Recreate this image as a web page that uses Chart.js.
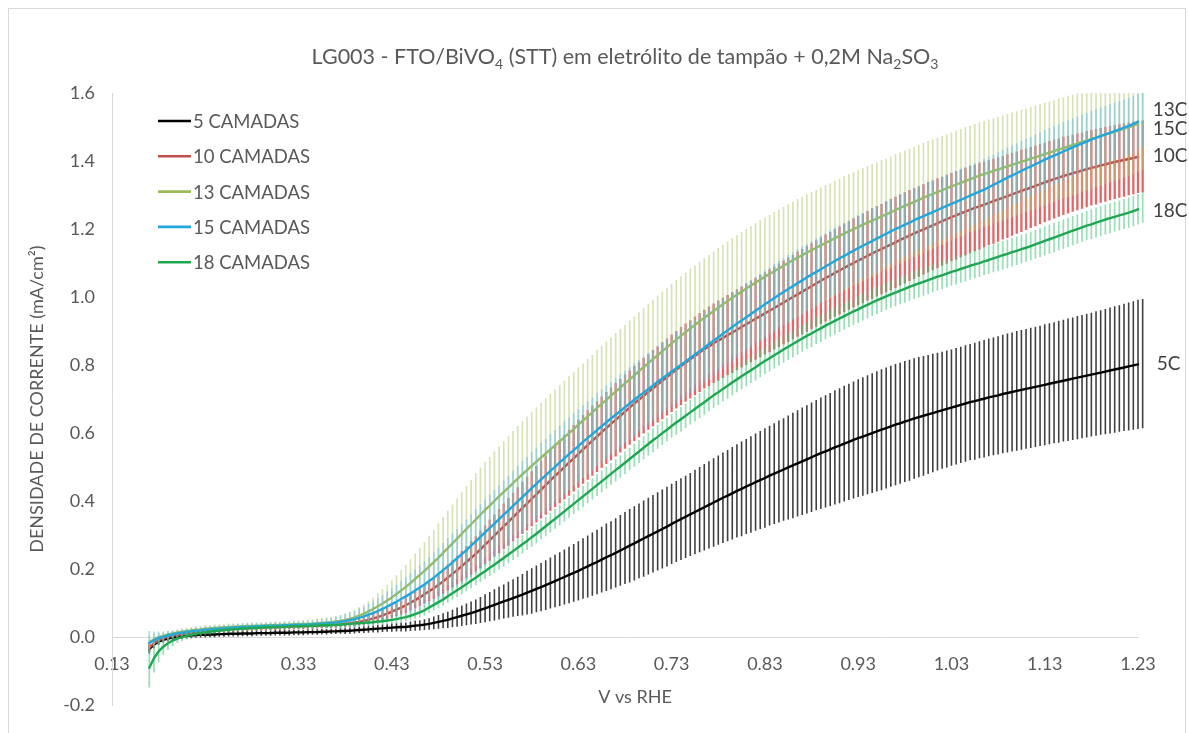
<!DOCTYPE html>
<html>
<head>
<meta charset="utf-8">
<script src="https://cdn.jsdelivr.net/npm/chart.js@4.4.0/dist/chart.umd.min.js"></script>
<style>
  html, body { margin: 0; padding: 0; background: #ffffff; }
  #wrap { width: 1189px; height: 733px; position: relative; }
</style>
</head>
<body>
<div id="wrap"><canvas id="chart" width="1189" height="733"></canvas></div>
<script>
// Potential sweep (V vs RHE)
const potential = [
  0.170,0.175,0.180,0.185,0.190,0.195,0.200,0.205,0.210,0.215,
  0.220,0.225,0.230,0.235,0.240,0.245,0.250,0.255,0.260,0.265,
  0.270,0.275,0.280,0.285,0.290,0.295,0.300,0.305,0.310,0.315,
  0.320,0.325,0.330,0.335,0.340,0.345,0.350,0.355,0.360,0.365,
  0.370,0.375,0.380,0.385,0.390,0.395,0.400,0.405,0.410,0.415,
  0.420,0.425,0.430,0.435,0.440,0.445,0.450,0.455,0.460,0.465,
  0.470,0.475,0.480,0.485,0.490,0.495,0.500,0.505,0.510,0.515,
  0.520,0.525,0.530,0.535,0.540,0.545,0.550,0.555,0.560,0.565,
  0.570,0.575,0.580,0.585,0.590,0.595,0.600,0.605,0.610,0.615,
  0.620,0.625,0.630,0.635,0.640,0.645,0.650,0.655,0.660,0.665,
  0.670,0.675,0.680,0.685,0.690,0.695,0.700,0.705,0.710,0.715,
  0.720,0.725,0.730,0.735,0.740,0.745,0.750,0.755,0.760,0.765,
  0.770,0.775,0.780,0.785,0.790,0.795,0.800,0.805,0.810,0.815,
  0.820,0.825,0.830,0.835,0.840,0.845,0.850,0.855,0.860,0.865,
  0.870,0.875,0.880,0.885,0.890,0.895,0.900,0.905,0.910,0.915,
  0.920,0.925,0.930,0.935,0.940,0.945,0.950,0.955,0.960,0.965,
  0.970,0.975,0.980,0.985,0.990,0.995,1.000,1.005,1.010,1.015,
  1.020,1.025,1.030,1.035,1.040,1.045,1.050,1.055,1.060,1.065,
  1.070,1.075,1.080,1.085,1.090,1.095,1.100,1.105,1.110,1.115,
  1.120,1.125,1.130,1.135,1.140,1.145,1.150,1.155,1.160,1.165,
  1.170,1.175,1.180,1.185,1.190,1.195,1.200,1.205,1.210,1.215,
  1.220,1.225,1.230,1.235
];

// Mean current density (mA/cm²) and standard deviation per film thickness
const j5 = [
  -0.035,-0.022,-0.013,-0.008,-0.004,-0.001,0.001,0.003,0.004,0.005,
  0.006,0.007,0.007,0.008,0.008,0.009,0.009,0.010,0.010,0.010,
  0.011,0.011,0.011,0.012,0.012,0.012,0.012,0.013,0.013,0.013,
  0.013,0.014,0.014,0.014,0.015,0.015,0.015,0.016,0.016,0.017,
  0.017,0.018,0.018,0.019,0.020,0.021,0.022,0.023,0.024,0.025,
  0.026,0.027,0.028,0.029,0.030,0.030,0.032,0.034,0.035,0.037,
  0.039,0.042,0.045,0.048,0.051,0.055,0.059,0.063,0.067,0.071,
  0.075,0.080,0.085,0.090,0.095,0.100,0.105,0.110,0.115,0.120,
  0.125,0.131,0.136,0.142,0.147,0.153,0.159,0.165,0.171,0.177,
  0.183,0.189,0.195,0.202,0.208,0.215,0.221,0.228,0.235,0.241,
  0.248,0.255,0.262,0.269,0.276,0.283,0.290,0.297,0.304,0.311,
  0.318,0.325,0.333,0.340,0.347,0.354,0.361,0.368,0.375,0.382,
  0.389,0.396,0.403,0.410,0.416,0.423,0.430,0.436,0.443,0.449,
  0.456,0.462,0.468,0.475,0.481,0.487,0.493,0.499,0.505,0.511,
  0.517,0.523,0.529,0.535,0.541,0.546,0.552,0.558,0.563,0.569,
  0.574,0.580,0.585,0.590,0.595,0.600,0.605,0.610,0.615,0.620,
  0.625,0.629,0.634,0.638,0.643,0.647,0.651,0.655,0.659,0.663,
  0.667,0.671,0.675,0.679,0.683,0.687,0.691,0.694,0.698,0.701,
  0.705,0.708,0.711,0.715,0.718,0.721,0.724,0.727,0.730,0.733,
  0.736,0.739,0.742,0.745,0.748,0.751,0.754,0.757,0.760,0.763,
  0.766,0.769,0.772,0.775,0.778,0.781,0.784,0.787,0.790,0.793,
  0.796,0.799,0.802,0.804
];
const sd5 = [
  0.012,0.010,0.009,0.008,0.008,0.008,0.008,0.008,0.008,0.008,
  0.008,0.008,0.008,0.008,0.008,0.008,0.008,0.008,0.008,0.008,
  0.008,0.008,0.008,0.008,0.008,0.008,0.008,0.008,0.008,0.008,
  0.008,0.008,0.008,0.008,0.008,0.008,0.008,0.008,0.008,0.008,
  0.008,0.008,0.009,0.009,0.009,0.009,0.010,0.010,0.010,0.011,
  0.011,0.011,0.012,0.012,0.013,0.013,0.014,0.015,0.015,0.016,
  0.017,0.019,0.020,0.022,0.024,0.026,0.028,0.030,0.032,0.034,
  0.036,0.038,0.041,0.043,0.046,0.048,0.050,0.053,0.055,0.058,
  0.061,0.064,0.067,0.069,0.071,0.073,0.075,0.077,0.079,0.081,
  0.083,0.085,0.087,0.089,0.091,0.093,0.095,0.097,0.099,0.100,
  0.102,0.104,0.106,0.108,0.109,0.110,0.112,0.113,0.114,0.115,
  0.116,0.117,0.118,0.119,0.120,0.121,0.122,0.124,0.125,0.127,
  0.128,0.130,0.131,0.133,0.134,0.136,0.137,0.139,0.140,0.142,
  0.143,0.144,0.146,0.147,0.148,0.150,0.151,0.153,0.155,0.156,
  0.158,0.159,0.161,0.162,0.164,0.165,0.166,0.168,0.169,0.170,
  0.171,0.172,0.173,0.174,0.175,0.176,0.177,0.178,0.178,0.178,
  0.178,0.178,0.178,0.178,0.177,0.177,0.176,0.175,0.174,0.173,
  0.172,0.172,0.171,0.171,0.171,0.171,0.171,0.172,0.172,0.173,
  0.173,0.173,0.174,0.174,0.175,0.175,0.176,0.176,0.176,0.177,
  0.177,0.177,0.178,0.178,0.178,0.179,0.179,0.180,0.180,0.181,
  0.181,0.182,0.182,0.183,0.183,0.184,0.185,0.186,0.186,0.187,
  0.188,0.189,0.190,0.190
];

const j10 = [
  -0.030,-0.018,-0.009,-0.003,0.001,0.004,0.007,0.009,0.011,0.013,
  0.015,0.016,0.018,0.019,0.020,0.021,0.022,0.023,0.024,0.025,
  0.025,0.026,0.027,0.027,0.028,0.028,0.029,0.029,0.030,0.030,
  0.031,0.031,0.032,0.032,0.033,0.033,0.034,0.034,0.035,0.036,
  0.037,0.038,0.039,0.041,0.043,0.045,0.048,0.051,0.055,0.059,
  0.064,0.069,0.075,0.081,0.087,0.094,0.101,0.109,0.117,0.126,
  0.135,0.144,0.154,0.164,0.175,0.186,0.197,0.209,0.221,0.233,
  0.245,0.258,0.272,0.285,0.299,0.312,0.326,0.339,0.353,0.366,
  0.380,0.393,0.407,0.420,0.434,0.447,0.461,0.474,0.487,0.500,
  0.513,0.526,0.539,0.552,0.565,0.578,0.590,0.603,0.615,0.627,
  0.639,0.651,0.663,0.675,0.687,0.698,0.710,0.721,0.732,0.743,
  0.754,0.765,0.776,0.786,0.797,0.807,0.817,0.827,0.837,0.847,
  0.855,0.864,0.872,0.880,0.888,0.896,0.904,0.912,0.920,0.928,
  0.936,0.944,0.952,0.960,0.968,0.976,0.984,0.992,1.000,1.008,
  1.016,1.024,1.032,1.040,1.048,1.056,1.063,1.071,1.078,1.086,
  1.093,1.100,1.107,1.114,1.121,1.128,1.135,1.141,1.148,1.154,
  1.161,1.168,1.174,1.181,1.187,1.193,1.199,1.205,1.211,1.217,
  1.223,1.229,1.235,1.240,1.246,1.251,1.257,1.262,1.267,1.272,
  1.277,1.282,1.287,1.292,1.297,1.302,1.307,1.312,1.317,1.322,
  1.327,1.332,1.337,1.342,1.347,1.351,1.356,1.360,1.364,1.368,
  1.372,1.376,1.380,1.383,1.387,1.390,1.394,1.397,1.400,1.403,
  1.406,1.409,1.412,1.414
];
const sd10 = [
  0.012,0.010,0.009,0.008,0.008,0.008,0.008,0.008,0.008,0.008,
  0.008,0.008,0.008,0.008,0.008,0.008,0.008,0.008,0.008,0.008,
  0.008,0.008,0.008,0.008,0.008,0.008,0.008,0.008,0.008,0.008,
  0.008,0.008,0.008,0.008,0.008,0.008,0.008,0.008,0.008,0.008,
  0.009,0.009,0.010,0.010,0.011,0.011,0.012,0.013,0.014,0.015,
  0.016,0.017,0.018,0.019,0.020,0.022,0.023,0.025,0.026,0.028,
  0.030,0.032,0.034,0.036,0.038,0.040,0.042,0.045,0.047,0.050,
  0.052,0.055,0.057,0.060,0.062,0.065,0.067,0.070,0.072,0.075,
  0.077,0.079,0.081,0.083,0.085,0.087,0.089,0.091,0.093,0.095,
  0.097,0.098,0.100,0.101,0.102,0.103,0.104,0.105,0.106,0.107,
  0.108,0.108,0.109,0.109,0.110,0.110,0.111,0.111,0.112,0.112,
  0.113,0.113,0.114,0.114,0.115,0.115,0.115,0.116,0.116,0.116,
  0.117,0.117,0.118,0.118,0.118,0.119,0.119,0.119,0.120,0.120,
  0.120,0.121,0.121,0.122,0.122,0.123,0.123,0.124,0.124,0.125,
  0.125,0.126,0.126,0.127,0.127,0.128,0.128,0.129,0.129,0.130,
  0.130,0.131,0.131,0.132,0.132,0.133,0.133,0.133,0.134,0.134,
  0.134,0.134,0.134,0.134,0.134,0.133,0.133,0.133,0.132,0.132,
  0.131,0.131,0.130,0.130,0.129,0.129,0.128,0.127,0.127,0.126,
  0.125,0.125,0.124,0.123,0.123,0.122,0.121,0.121,0.120,0.119,
  0.119,0.118,0.117,0.117,0.116,0.115,0.115,0.114,0.113,0.113,
  0.112,0.112,0.111,0.111,0.110,0.110,0.109,0.109,0.108,0.108,
  0.107,0.107,0.106,0.106
];

const j13 = [
  -0.015,-0.006,0.000,0.004,0.008,0.011,0.014,0.016,0.018,0.020,
  0.022,0.023,0.025,0.026,0.027,0.028,0.029,0.030,0.031,0.031,
  0.032,0.033,0.033,0.034,0.034,0.035,0.035,0.036,0.036,0.037,
  0.037,0.038,0.038,0.039,0.039,0.040,0.041,0.042,0.043,0.044,
  0.046,0.048,0.051,0.054,0.058,0.063,0.069,0.076,0.083,0.091,
  0.099,0.108,0.117,0.127,0.137,0.148,0.159,0.171,0.183,0.195,
  0.208,0.221,0.234,0.248,0.262,0.276,0.290,0.304,0.318,0.332,
  0.346,0.360,0.374,0.387,0.401,0.414,0.427,0.440,0.453,0.466,
  0.479,0.491,0.504,0.516,0.528,0.540,0.552,0.564,0.576,0.588,
  0.600,0.612,0.625,0.637,0.649,0.661,0.674,0.686,0.698,0.710,
  0.722,0.734,0.746,0.758,0.770,0.782,0.794,0.806,0.818,0.829,
  0.841,0.852,0.864,0.875,0.886,0.897,0.908,0.918,0.929,0.939,
  0.949,0.959,0.969,0.979,0.988,0.998,1.007,1.016,1.025,1.034,
  1.043,1.051,1.060,1.068,1.076,1.084,1.092,1.100,1.108,1.116,
  1.123,1.131,1.138,1.145,1.152,1.159,1.166,1.173,1.180,1.187,
  1.193,1.200,1.206,1.213,1.219,1.225,1.231,1.237,1.243,1.249,
  1.256,1.262,1.268,1.274,1.280,1.286,1.292,1.298,1.303,1.309,
  1.314,1.320,1.325,1.331,1.336,1.341,1.347,1.352,1.357,1.362,
  1.366,1.371,1.375,1.380,1.384,1.389,1.393,1.398,1.402,1.407,
  1.411,1.416,1.420,1.425,1.429,1.434,1.438,1.443,1.447,1.451,
  1.456,1.460,1.465,1.469,1.473,1.478,1.482,1.486,1.490,1.495,
  1.499,1.504,1.510,1.516
];
const sd13 = [
  0.020,0.015,0.012,0.010,0.010,0.010,0.010,0.010,0.010,0.010,
  0.010,0.010,0.010,0.010,0.010,0.010,0.010,0.010,0.010,0.010,
  0.010,0.010,0.010,0.010,0.010,0.010,0.010,0.010,0.010,0.010,
  0.010,0.010,0.011,0.011,0.012,0.012,0.013,0.014,0.015,0.015,
  0.016,0.017,0.019,0.021,0.023,0.025,0.028,0.031,0.034,0.038,
  0.042,0.046,0.050,0.055,0.060,0.065,0.070,0.075,0.080,0.085,
  0.090,0.095,0.100,0.105,0.110,0.114,0.118,0.122,0.126,0.130,
  0.136,0.139,0.141,0.143,0.145,0.147,0.149,0.151,0.153,0.155,
  0.156,0.158,0.159,0.160,0.161,0.162,0.163,0.164,0.165,0.166,
  0.167,0.167,0.168,0.168,0.169,0.169,0.170,0.170,0.171,0.171,
  0.172,0.172,0.172,0.173,0.173,0.173,0.174,0.174,0.174,0.175,
  0.175,0.175,0.175,0.175,0.175,0.175,0.175,0.175,0.175,0.175,
  0.175,0.175,0.175,0.175,0.175,0.175,0.175,0.175,0.175,0.175,
  0.175,0.175,0.174,0.174,0.174,0.173,0.173,0.173,0.172,0.172,
  0.172,0.171,0.171,0.170,0.170,0.170,0.169,0.169,0.168,0.168,
  0.168,0.167,0.167,0.166,0.166,0.166,0.165,0.165,0.164,0.164,
  0.164,0.163,0.163,0.162,0.162,0.162,0.161,0.161,0.160,0.160,
  0.160,0.159,0.159,0.158,0.158,0.158,0.157,0.157,0.156,0.156,
  0.156,0.155,0.155,0.154,0.154,0.154,0.153,0.153,0.152,0.152,
  0.152,0.151,0.151,0.150,0.150,0.150,0.149,0.149,0.148,0.148,
  0.148,0.147,0.147,0.146,0.146,0.146,0.145,0.145,0.144,0.144,
  0.144,0.143,0.143,0.142
];

const j15 = [
  -0.017,-0.009,-0.003,0.001,0.005,0.008,0.011,0.013,0.015,0.017,
  0.019,0.020,0.022,0.023,0.024,0.025,0.026,0.027,0.028,0.029,
  0.030,0.030,0.031,0.032,0.032,0.033,0.033,0.034,0.034,0.035,
  0.035,0.036,0.036,0.037,0.037,0.038,0.039,0.040,0.041,0.042,
  0.043,0.045,0.047,0.050,0.053,0.057,0.061,0.066,0.071,0.077,
  0.083,0.090,0.097,0.104,0.112,0.120,0.128,0.137,0.146,0.155,
  0.165,0.175,0.186,0.197,0.208,0.220,0.232,0.244,0.256,0.269,
  0.282,0.295,0.308,0.321,0.334,0.347,0.360,0.373,0.386,0.399,
  0.412,0.425,0.438,0.451,0.464,0.476,0.489,0.501,0.514,0.526,
  0.538,0.550,0.562,0.574,0.586,0.597,0.609,0.620,0.632,0.643,
  0.654,0.665,0.676,0.687,0.698,0.709,0.719,0.730,0.740,0.751,
  0.761,0.771,0.781,0.791,0.801,0.811,0.821,0.831,0.841,0.851,
  0.862,0.872,0.882,0.892,0.902,0.912,0.922,0.931,0.941,0.950,
  0.960,0.969,0.979,0.988,0.997,1.006,1.015,1.024,1.032,1.041,
  1.049,1.058,1.066,1.074,1.082,1.090,1.098,1.106,1.114,1.121,
  1.129,1.136,1.144,1.151,1.158,1.165,1.172,1.179,1.186,1.193,
  1.200,1.206,1.213,1.219,1.226,1.232,1.238,1.244,1.250,1.256,
  1.262,1.268,1.274,1.280,1.286,1.292,1.298,1.304,1.310,1.316,
  1.323,1.330,1.337,1.344,1.351,1.358,1.364,1.371,1.378,1.384,
  1.391,1.397,1.404,1.410,1.416,1.422,1.428,1.434,1.440,1.446,
  1.452,1.457,1.463,1.468,1.473,1.478,1.483,1.488,1.493,1.498,
  1.503,1.509,1.516,1.523
];
const sd15 = [
  0.035,0.026,0.020,0.016,0.013,0.011,0.010,0.010,0.010,0.010,
  0.010,0.010,0.010,0.010,0.010,0.010,0.010,0.010,0.010,0.010,
  0.010,0.010,0.010,0.010,0.010,0.010,0.010,0.010,0.010,0.010,
  0.010,0.010,0.011,0.011,0.012,0.012,0.013,0.014,0.015,0.016,
  0.017,0.019,0.021,0.023,0.025,0.027,0.029,0.032,0.035,0.038,
  0.041,0.044,0.047,0.050,0.053,0.056,0.059,0.062,0.065,0.068,
  0.071,0.074,0.077,0.080,0.082,0.084,0.086,0.088,0.090,0.092,
  0.094,0.096,0.097,0.098,0.099,0.100,0.101,0.102,0.103,0.104,
  0.105,0.105,0.106,0.106,0.107,0.107,0.108,0.108,0.108,0.108,
  0.108,0.108,0.108,0.108,0.108,0.108,0.108,0.108,0.108,0.108,
  0.108,0.108,0.107,0.107,0.107,0.107,0.106,0.106,0.106,0.106,
  0.105,0.105,0.105,0.105,0.104,0.104,0.104,0.104,0.103,0.103,
  0.103,0.103,0.102,0.102,0.102,0.102,0.101,0.101,0.101,0.101,
  0.100,0.100,0.100,0.100,0.100,0.100,0.100,0.100,0.100,0.100,
  0.100,0.099,0.099,0.099,0.099,0.098,0.098,0.098,0.098,0.097,
  0.097,0.097,0.097,0.096,0.096,0.096,0.096,0.095,0.095,0.095,
  0.095,0.094,0.094,0.094,0.094,0.093,0.093,0.093,0.093,0.092,
  0.092,0.092,0.092,0.091,0.091,0.091,0.091,0.090,0.090,0.090,
  0.090,0.089,0.089,0.089,0.089,0.088,0.088,0.088,0.088,0.087,
  0.087,0.087,0.087,0.086,0.086,0.086,0.086,0.085,0.085,0.085,
  0.085,0.085,0.084,0.084,0.084,0.084,0.084,0.083,0.083,0.083,
  0.083,0.083,0.082,0.082
];

const j18 = [
  -0.090,-0.062,-0.042,-0.028,-0.018,-0.010,-0.004,0.000,0.004,0.007,
  0.010,0.012,0.014,0.016,0.018,0.019,0.021,0.022,0.023,0.024,
  0.025,0.026,0.027,0.027,0.028,0.029,0.029,0.030,0.030,0.031,
  0.031,0.032,0.032,0.033,0.033,0.034,0.034,0.035,0.035,0.036,
  0.036,0.037,0.038,0.039,0.040,0.041,0.042,0.043,0.044,0.046,
  0.047,0.049,0.051,0.053,0.056,0.059,0.063,0.068,0.073,0.079,
  0.087,0.095,0.103,0.111,0.120,0.129,0.138,0.147,0.156,0.166,
  0.175,0.185,0.194,0.204,0.213,0.223,0.233,0.243,0.253,0.263,
  0.273,0.283,0.294,0.304,0.315,0.326,0.337,0.348,0.359,0.370,
  0.381,0.392,0.403,0.414,0.425,0.436,0.447,0.458,0.469,0.480,
  0.491,0.502,0.513,0.524,0.535,0.546,0.557,0.568,0.579,0.589,
  0.600,0.610,0.621,0.631,0.641,0.651,0.661,0.671,0.681,0.691,
  0.701,0.711,0.720,0.730,0.739,0.749,0.758,0.767,0.776,0.785,
  0.794,0.803,0.812,0.820,0.829,0.837,0.846,0.854,0.862,0.870,
  0.878,0.886,0.893,0.901,0.908,0.916,0.923,0.930,0.937,0.944,
  0.951,0.958,0.964,0.971,0.977,0.984,0.990,0.996,1.002,1.008,
  1.013,1.019,1.024,1.030,1.035,1.040,1.045,1.050,1.055,1.060,
  1.064,1.069,1.074,1.078,1.083,1.087,1.092,1.096,1.100,1.105,
  1.109,1.114,1.118,1.123,1.127,1.132,1.136,1.141,1.145,1.150,
  1.155,1.160,1.165,1.170,1.175,1.180,1.185,1.190,1.195,1.200,
  1.205,1.210,1.214,1.219,1.223,1.228,1.232,1.236,1.240,1.244,
  1.248,1.253,1.258,1.264
];
const sd18 = [
  0.058,0.042,0.032,0.025,0.020,0.016,0.013,0.011,0.010,0.009,
  0.009,0.009,0.009,0.009,0.009,0.009,0.009,0.009,0.009,0.009,
  0.009,0.009,0.009,0.009,0.009,0.009,0.009,0.009,0.009,0.009,
  0.009,0.009,0.009,0.009,0.009,0.009,0.009,0.009,0.009,0.009,
  0.009,0.009,0.009,0.010,0.010,0.010,0.010,0.010,0.010,0.010,
  0.010,0.011,0.011,0.012,0.012,0.013,0.013,0.014,0.015,0.015,
  0.016,0.017,0.017,0.018,0.019,0.019,0.020,0.021,0.021,0.022,
  0.022,0.023,0.023,0.024,0.024,0.025,0.025,0.026,0.026,0.027,
  0.027,0.027,0.028,0.028,0.028,0.029,0.029,0.029,0.030,0.030,
  0.030,0.030,0.031,0.031,0.031,0.031,0.032,0.032,0.032,0.032,
  0.033,0.033,0.033,0.033,0.034,0.034,0.034,0.034,0.035,0.035,
  0.035,0.035,0.035,0.036,0.036,0.036,0.036,0.036,0.037,0.037,
  0.037,0.037,0.037,0.037,0.038,0.038,0.038,0.038,0.038,0.038,
  0.039,0.039,0.039,0.039,0.039,0.039,0.039,0.039,0.039,0.039,
  0.039,0.039,0.040,0.040,0.040,0.040,0.040,0.040,0.040,0.040,
  0.040,0.040,0.040,0.040,0.040,0.040,0.040,0.040,0.040,0.040,
  0.040,0.040,0.041,0.041,0.041,0.041,0.041,0.041,0.041,0.041,
  0.041,0.041,0.041,0.041,0.041,0.041,0.041,0.041,0.041,0.041,
  0.041,0.041,0.042,0.042,0.042,0.042,0.042,0.042,0.042,0.042,
  0.042,0.042,0.043,0.043,0.043,0.043,0.043,0.043,0.043,0.043,
  0.043,0.043,0.044,0.044,0.044,0.044,0.044,0.044,0.044,0.044,
  0.045,0.045,0.045,0.045
];

const seriesNames = ['5 CAMADAS', '10 CAMADAS', '13 CAMADAS', '15 CAMADAS', '18 CAMADAS'];
const endTags     = ['5C', '10C', '13C', '15C', '18C'];
const xTickValues = [0.13, 0.23, 0.33, 0.43, 0.53, 0.63, 0.73, 0.83, 0.93, 1.03, 1.13, 1.23];
const yTickValues = [-0.2, 0.0, 0.2, 0.4, 0.6, 0.8, 1.0, 1.2, 1.4, 1.6];

// Title split into normal and subscript runs
const titleRuns = [
  ['LG003 - FTO/BiVO', false], ['4', true],
  [' (STT) em eletrólito de tampão + 0,2M Na', false], ['2', true],
  ['SO', false], ['3', true]
];

// Styling per series: line colour, error-bar colour and width, end tag nudge
const styles = [
  { line: '#000000', bar: 'rgba(30,30,30,0.85)',    barW: 1.6, tagDx: 14, tagDy: 0 },
  { line: '#C0504D', bar: 'rgba(222,74,74,0.85)',   barW: 2.3, tagDx: 10, tagDy: 0 },
  { line: '#9BBB59', bar: 'rgba(182,204,120,0.55)', barW: 1.7, tagDx: 10, tagDy: -12 },
  { line: '#21A6DE', bar: 'rgba(98,188,228,0.52)',  barW: 1.7, tagDx: 10, tagDy: 10 },
  { line: '#1FA650', bar: 'rgba(70,195,120,0.55)',  barW: 1.7, tagDx: 10, tagDy: 4 }
];

const means = [j5, j10, j13, j15, j18];
const devs  = [sd5, sd10, sd13, sd15, sd18];

const TEXT = '#595959';
const FONT = 'Lato, "Open Sans", sans-serif';

const datasets = means.map((m, k) => ({
  label: seriesNames[k],
  data: potential.map((v, i) => ({ x: v, y: m[i] })),
  sd: devs[k],
  barColor: styles[k].bar,
  barWidth: styles[k].barW,
  tag: endTags[k],
  tagDx: styles[k].tagDx,
  tagDy: styles[k].tagDy,
  borderColor: styles[k].line,
  backgroundColor: styles[k].line,
  borderWidth: 2.4,
  pointRadius: 0,
  pointHoverRadius: 0,
  tension: 0,
  borderJoinStyle: 'round',
  borderCapStyle: 'round',
  clip: { left: 2, top: 0, right: 12, bottom: 2 },
  order: 5 - k
}));

// White page, thin outer frame and the chart title
const framePlugin = {
  id: 'frame',
  beforeDraw(chart) {
    const c = chart.ctx;
    const a = chart.chartArea;
    c.save();
    c.fillStyle = '#ffffff';
    c.fillRect(0, 0, chart.width, chart.height);
    c.strokeStyle = '#d9d9d9';
    c.lineWidth = 1;
    c.strokeRect(8.5, 8.5, chart.width - 12, chart.height + 20);

    const big = '21.5px ' + FONT, small = '14px ' + FONT;
    let total = 0;
    titleRuns.forEach(([t, sub]) => { c.font = sub ? small : big; total += c.measureText(t).width; });
    let x = (a.left + a.right) / 2 - total / 2;
    const base = 64;
    c.fillStyle = TEXT;
    c.textAlign = 'left';
    c.textBaseline = 'alphabetic';
    titleRuns.forEach(([t, sub]) => {
      c.font = sub ? small : big;
      c.fillText(t, x, sub ? base + 5 : base);
      x += c.measureText(t).width;
    });
    c.restore();
  }
};

// Vertical ±SD bars, drawn just beneath each series' own line
const errorBarPlugin = {
  id: 'errorBars',
  beforeDatasetDraw(chart, args) {
    const ds = chart.data.datasets[args.index];
    if (!ds.sd) return;
    const xs = chart.scales.x, ys = chart.scales.y, a = chart.chartArea;
    const c = chart.ctx;
    c.save();
    c.beginPath();
    c.rect(a.left, a.top, a.right - a.left + 12, a.bottom - a.top);
    c.clip();
    c.strokeStyle = ds.barColor;
    c.lineWidth = ds.barWidth;
    c.beginPath();
    ds.data.forEach((p, i) => {
      const e = ds.sd[i];
      if (e === undefined) return;
      const px = xs.getPixelForValue(p.x);
      c.moveTo(px, ys.getPixelForValue(p.y + e));
      c.lineTo(px, ys.getPixelForValue(p.y - e));
    });
    c.stroke();
    c.restore();
  }
};

// Legend box inside the plot, tags at the line ends, and the x-axis title
const annotatePlugin = {
  id: 'annotate',
  afterDraw(chart) {
    const c = chart.ctx;
    const a = chart.chartArea;
    c.save();
    c.font = '18.5px ' + FONT;
    c.textBaseline = 'middle';
    c.textAlign = 'left';
    chart.data.datasets.forEach((ds, k) => {
      const y = a.top + 28 + k * 35.3;
      const x = a.left + 46;
      c.strokeStyle = ds.borderColor;
      c.lineWidth = 2.6;
      c.beginPath();
      c.moveTo(x, y);
      c.lineTo(x + 33, y);
      c.stroke();
      c.fillStyle = TEXT;
      c.fillText(ds.label, x + 35, y + 1);
    });
    c.fillStyle = '#404040';
    c.font = '19px ' + FONT;
    chart.data.datasets.forEach((ds, k) => {
      const meta = chart.getDatasetMeta(k);
      const last = meta.data[meta.data.length - 1];
      c.fillText(ds.tag, last.x + ds.tagDx, last.y + ds.tagDy);
    });
    c.fillStyle = TEXT;
    c.font = '18px ' + FONT;
    c.textAlign = 'center';
    c.fillText('V vs RHE', (a.left + a.right) / 2 + 10, 697);
    c.restore();
  }
};

function build() {
  new Chart(document.getElementById('chart'), {
    type: 'line',
    data: { datasets },
    options: {
      responsive: false,
      animation: false,
      devicePixelRatio: 1,
      events: [],
      layout: { padding: { left: 0, right: 51, top: 93, bottom: 0 } },
      plugins: {
        legend: { display: false },
        tooltip: { enabled: false },
        title: { display: false }
      },
      scales: {
        x: {
          type: 'linear',
          min: 0.13,
          max: 1.23,
          position: { y: 0 },
          grid: { display: false, drawTicks: false },
          border: { display: true, color: '#d9d9d9', width: 1 },
          afterBuildTicks: (s) => { s.ticks = xTickValues.map(v => ({ value: v })); },
          afterFit: (s) => { s.height = 29; },
          ticks: {
            color: TEXT,
            font: { family: FONT, size: 18 },
            padding: 16,
            maxRotation: 0,
            autoSkip: false,
            callback: (v) => Number(v).toFixed(2)
          }
        },
        y: {
          type: 'linear',
          min: -0.2,
          max: 1.6,
          grid: { display: false, drawTicks: false },
          border: { display: true, color: '#d9d9d9', width: 1 },
          afterBuildTicks: (s) => { s.ticks = yTickValues.map(v => ({ value: v })); },
          afterFit: (s) => { s.width = 112; },
          ticks: {
            color: TEXT,
            font: { family: FONT, size: 18 },
            padding: 17,
            callback: (v) => Number(v).toFixed(1)
          },
          title: {
            display: true,
            text: 'DENSIDADE DE CORRENTE (mA/cm²)',
            color: TEXT,
            font: { family: FONT, size: 18 },
            padding: { top: 26, bottom: 0 }
          }
        }
      }
    },
    plugins: [framePlugin, errorBarPlugin, annotatePlugin]
  });
}

if (document.fonts && document.fonts.load) {
  Promise.all([document.fonts.load('18px Lato'), document.fonts.load('21.5px Lato')])
    .then(build, build);
} else {
  build();
}
</script>
</body>
</html>
